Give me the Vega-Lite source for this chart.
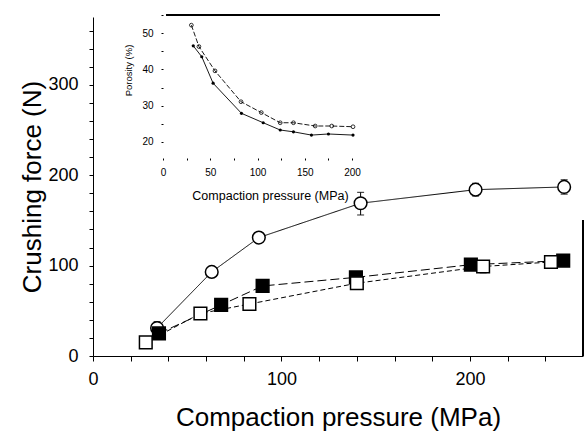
{
  "$schema": "https://vega.github.io/schema/vega-lite/v6.json",
  "width": 490,
  "height": 339,
  "autosize": {"type": "none"},
  "padding": {"left": 93, "top": 17, "right": 1, "bottom": 75},
  "background": "white",
  "config": {
    "view": {"stroke": null},
    "font": "Liberation Sans",
    "axis": {"domainColor": "black", "tickColor": "black", "labelColor": "black", "titleColor": "black", "titleFontWeight": "normal", "grid": false, "labelFlush": false, "labelOverlap": false}
  },
  "datasets": {
    "main": [
      {"series": "circle", "x": 34, "y": 31, "lo": 24, "hi": 38},
      {"series": "circle", "x": 63, "y": 93},
      {"series": "circle", "x": 88, "y": 131, "lo": 126, "hi": 136},
      {"series": "circle", "x": 142, "y": 169, "lo": 156, "hi": 181},
      {"series": "circle", "x": 203, "y": 184, "lo": 177, "hi": 191},
      {"series": "circle", "x": 250, "y": 187, "lo": 179, "hi": 195},
      {"series": "filled", "x": 35, "y": 25},
      {"series": "filled", "x": 68, "y": 56.5},
      {"series": "filled", "x": 90, "y": 77.5},
      {"series": "filled", "x": 139.5, "y": 87},
      {"series": "filled", "x": 200.5, "y": 101},
      {"series": "filled", "x": 249.5, "y": 105.5},
      {"series": "open", "x": 28, "y": 15},
      {"series": "open", "x": 57, "y": 47},
      {"series": "open", "x": 83, "y": 57.5},
      {"series": "open", "x": 140, "y": 80.5, "lo": 76, "hi": 85},
      {"series": "open", "x": 207, "y": 99, "lo": 92, "hi": 105},
      {"series": "open", "x": 243, "y": 104, "lo": 98, "hi": 110}
    ],
    "inset": [
      {"series": "upper", "x": 30, "p": 52.2},
      {"series": "upper", "x": 38, "p": 46.3},
      {"series": "upper", "x": 55, "p": 39.6},
      {"series": "upper", "x": 82.5, "p": 31.1},
      {"series": "upper", "x": 104, "p": 28.1},
      {"series": "upper", "x": 124, "p": 25.3},
      {"series": "upper", "x": 138, "p": 25.3},
      {"series": "upper", "x": 161, "p": 24.4},
      {"series": "upper", "x": 178.5, "p": 24.4},
      {"series": "upper", "x": 201, "p": 24.2},
      {"series": "lower", "x": 32, "p": 46.5},
      {"series": "lower", "x": 41, "p": 43.5},
      {"series": "lower", "x": 53, "p": 36.2},
      {"series": "lower", "x": 83, "p": 27.9},
      {"series": "lower", "x": 106, "p": 25.3},
      {"series": "lower", "x": 124, "p": 23.3},
      {"series": "lower", "x": 138, "p": 22.8},
      {"series": "lower", "x": 157, "p": 21.9},
      {"series": "lower", "x": 175, "p": 22.2},
      {"series": "lower", "x": 201, "p": 21.9}
    ]
  },
  "layer": [
    {
      "data": {"name": "main"},
      "encoding": {
        "x": {
          "field": "x", "type": "quantitative",
          "scale": {"domain": [0, 260], "nice": false, "zero": false},
          "axis": {
            "values": [0, 20, 40, 60, 80, 100, 120, 140, 160, 180, 200, 220, 240],
            "labelExpr": "datum.value % 100 === 0 ? datum.label : ''",
            "title": "Compaction pressure (MPa)",
            "titleFontSize": 26, "labelFontSize": 18, "tickSize": 5, "labelPadding": 9,
            "titleX": 245, "titleY": 69, "titleBaseline": "alphabetic", "titleAlign": "center"
          }
        },
        "y": {
          "field": "y", "type": "quantitative",
          "scale": {"domain": [0, 375], "nice": false, "zero": false},
          "axis": {
            "values": [0, 20, 40, 60, 80, 100, 120, 140, 160, 180, 200, 220, 240, 260, 280, 300, 320, 340, 360],
            "labelExpr": "datum.value % 100 === 0 ? datum.label : ''",
            "title": "Crushing force (N)",
            "titleFontSize": 26, "labelFontSize": 18, "tickSize": 4, "labelPadding": 11,
            "titleX": -53, "titleY": 169.5, "titleBaseline": "alphabetic", "titleAlign": "center"
          }
        }
      },
      "layer": [
        {
          "mark": {"type": "line", "color": "black", "strokeWidth": 1},
          "encoding": {
            "detail": {"field": "series"},
            "strokeDash": {"field": "series", "type": "nominal", "scale": {"domain": ["circle", "filled", "open"], "range": [[1, 0], [9, 4], [5, 3]]}, "legend": null}
          }
        },
        {
          "transform": [{"filter": "isValid(datum.lo)"}],
          "mark": {"type": "rule", "color": "black", "strokeWidth": 1},
          "encoding": {"y": {"field": "lo", "type": "quantitative"}, "y2": {"field": "hi"}}
        },
        {
          "transform": [{"filter": "isValid(datum.lo)"}],
          "mark": {"type": "tick", "orient": "horizontal", "color": "black", "thickness": 1.2, "size": 7},
          "encoding": {"y": {"field": "lo", "type": "quantitative"}}
        },
        {
          "transform": [{"filter": "isValid(datum.hi)"}],
          "mark": {"type": "tick", "orient": "horizontal", "color": "black", "thickness": 1.2, "size": 7},
          "encoding": {"y": {"field": "hi", "type": "quantitative"}}
        },
        {
          "mark": {"type": "point", "filled": false, "stroke": "black", "strokeWidth": 1.5, "opacity": 1, "size": 160},
          "encoding": {
            "shape": {"field": "series", "type": "nominal", "scale": {"domain": ["circle", "filled", "open"], "range": ["circle", "square", "square"]}, "legend": null},
            "fill": {"field": "series", "type": "nominal", "scale": {"domain": ["circle", "filled", "open"], "range": ["white", "black", "white"]}, "legend": null}
          }
        },
        {
          "mark": {"type": "rule", "color": "black", "strokeWidth": 1.5},
          "encoding": {"x": {"datum": 260}, "y": {"datum": 0}, "y2": {"datum": 150}}
        }
      ]
    },
    {
      "data": {"name": "inset"},
      "encoding": {
        "x": {
          "field": "x", "type": "quantitative",
          "scale": {"domain": [0, 293], "range": [70, 347], "nice": false, "zero": false},
          "axis": {
            "orient": "bottom", "offset": -198, "domain": false,
            "values": [0, 25, 50, 75, 100, 125, 150, 175, 200],
            "labelExpr": "datum.value % 50 === 0 ? datum.label : ''",
            "title": "Compaction pressure (MPa)",
            "titleFontSize": 12.5, "labelFontSize": 10, "tickSize": 2, "labelPadding": 7,
            "titleX": 177, "titleY": 41, "titleBaseline": "alphabetic", "titleAlign": "center"
          }
        },
        "y": {
          "field": "p", "type": "quantitative",
          "scale": {"domain": [15.5, 55], "range": [141.3, -2], "nice": false, "zero": false},
          "axis": {
            "orient": "left", "offset": -70, "domain": false,
            "values": [20, 25, 30, 35, 40, 45, 50, 55],
            "labelExpr": "datum.value % 10 === 0 ? datum.label : ''",
            "title": "Porosity (%)",
            "titleFontSize": 9.5, "labelFontSize": 10, "tickSize": 2, "labelPadding": 8,
            "titleX": -32, "titleY": 53, "titleBaseline": "alphabetic", "titleAlign": "center"
          }
        }
      },
      "layer": [
        {
          "transform": [{"filter": "datum.series === 'upper'"}],
          "mark": {"type": "line", "color": "black", "strokeWidth": 0.9, "strokeDash": [5, 2]}
        },
        {
          "transform": [{"filter": "datum.series === 'lower'"}],
          "mark": {"type": "line", "color": "black", "strokeWidth": 0.9}
        },
        {
          "transform": [{"filter": "datum.series === 'upper'"}],
          "mark": {"type": "point", "shape": "circle", "filled": false, "stroke": "black", "strokeWidth": 0.8, "opacity": 1, "size": 14}
        },
        {
          "transform": [{"filter": "datum.series === 'lower'"}],
          "mark": {"type": "point", "shape": "circle", "filled": true, "color": "black", "opacity": 1, "size": 10}
        },
        {
          "mark": {"type": "rule", "color": "black", "strokeWidth": 1.5},
          "encoding": {"x": {"datum": 4}, "x2": {"datum": 293}, "y": {"datum": 55}}
        }
      ]
    }
  ],
  "resolve": {"scale": {"x": "independent", "y": "independent"}, "axis": {"x": "independent", "y": "independent"}}
}
